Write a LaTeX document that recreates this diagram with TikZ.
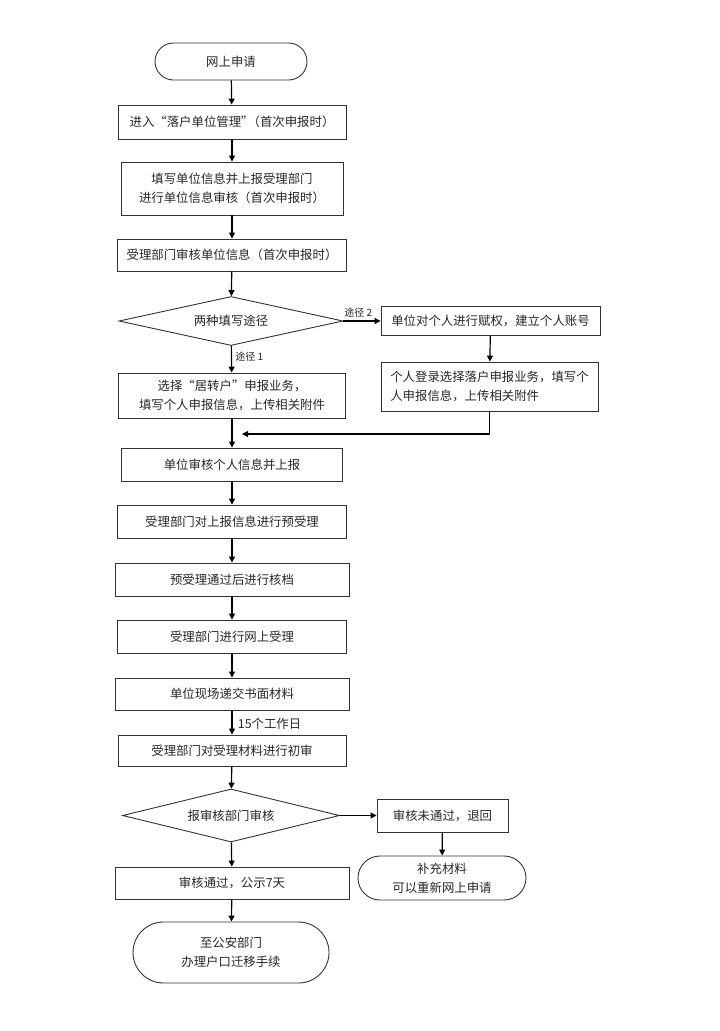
\documentclass[tikz,border=0pt]{standalone}
\usepackage{fontspec}
\newfontfamily\cjk{Noto Sans CJK SC}
\usetikzlibrary{shapes.geometric,shapes.misc,arrows.meta}

\begin{document}
\begin{tikzpicture}[x=1pt,y=-1pt,
  every node/.style={font=\cjk\fontsize{12.4}{19}\selectfont, text=black!85},
  process/.style={draw=black!80, line width=0.9pt, rectangle, inner sep=0pt, align=center},
  startstop/.style={draw=black!80, line width=0.9pt, rounded rectangle, inner sep=0pt, align=center},
  decision/.style={draw=black!80, line width=0.9pt, diamond, inner sep=0pt, aspect=4},
  flow/.style={line width=1.2pt, -{Triangle[width=6pt,length=6pt]}},
  tag/.style={font=\cjk\fontsize{10}{12}\selectfont}]
\useasboundingbox (0,0) rectangle (720,1031);

% main column
\node[startstop, minimum width=152pt, minimum height=37pt] (start) at (231,61.5) {网上申请};
\node[process, minimum width=228pt, minimum height=34pt] (enter) at (232,122) {进入“落户单位管理”\kern-6pt（首次申报时）};
\node[process, minimum width=222pt, minimum height=53pt] (unitinfo) at (232,188.5) {填写单位信息并上报受理部门\\进行单位信息审核（首次申报时）};
\node[process, minimum width=229pt, minimum height=32pt] (deptcheck) at (232,255) {受理部门审核单位信息（首次申报时）};
\node[decision, minimum width=224pt, minimum height=49pt] (ways) at (231,321) {两种填写途径};
\node[process, minimum width=227pt, minimum height=45pt] (choose) at (232,395.5) {选择“居转户”申报业务，\\填写个人申报信息，上传相关附件};
\node[process, minimum width=221pt, minimum height=33pt] (unitcheck) at (232,464.5) {单位审核个人信息并上报};
\node[process, minimum width=229pt, minimum height=33pt] (pre) at (232,521.5) {受理部门对上报信息进行预受理};
\node[process, minimum width=234pt, minimum height=33pt] (archive) at (232,579.5) {预受理通过后进行核档};
\node[process, minimum width=229pt, minimum height=33pt] (online) at (232,636.5) {受理部门进行网上受理};
\node[process, minimum width=234pt, minimum height=32pt] (submit) at (232,694) {单位现场递交书面材料};
\node[process, minimum width=228pt, minimum height=31pt] (firstcheck) at (232,750.5) {受理部门对受理材料进行初审};
\node[decision, minimum width=217pt, minimum height=53pt] (audit) at (231,815.5) {报审核部门审核};
\node[process, minimum width=234pt, minimum height=32pt] (pass) at (232,883) {审核通过，公示7天};
\node[startstop, minimum width=196pt, minimum height=61pt] (police) at (231,952.5) {至公安部门\\办理户口迁移手续};

% right branch
\node[process, minimum width=219pt, minimum height=29pt] (grant) at (490.5,321) {单位对个人进行赋权，建立个人账号};
\node[process, minimum width=217pt, minimum height=49pt, align=left] (login) at (489.5,386.5) {个人登录选择落户申报业务，填写个\\人申报信息，上传相关附件};
\node[process, minimum width=131pt, minimum height=33pt] (fail) at (442.5,815.5) {审核未通过，退回};
\node[startstop, minimum width=168pt, minimum height=44pt] (supply) at (442,878) {补充材料\\可以重新网上申请};
\coordinate (join) at (242,434);

% connectors
\draw[flow] (start) -- (enter);
\draw[flow] (enter) -- (unitinfo);
\draw[flow] (unitinfo) -- (deptcheck);
\draw[flow] (deptcheck) -- (ways);
\draw[flow] (ways) -- node[tag, right, pos=0.4] {途径 1} (choose);
\draw[flow] (ways) -- node[tag, above, pos=0.4] {途径 2} (grant);
\draw[flow] (grant) -- (login);
\draw[flow] (login.south) |- (join);
\draw[flow] (choose) -- (unitcheck);
\draw[flow] (unitcheck) -- (pre);
\draw[flow] (pre) -- (archive);
\draw[flow] (archive) -- (online);
\draw[flow] (online) -- (submit);
\draw[flow] (submit) -- node[right, xshift=2pt, yshift=-1pt] {15个工作日} (firstcheck);
\draw[flow] (firstcheck) -- (audit);
\draw[flow] (audit) -- (fail);
\draw[flow] (fail) -- (supply);
\draw[flow] (audit) -- (pass);
\draw[flow] (pass) -- (police);
\end{tikzpicture}
\end{document}
